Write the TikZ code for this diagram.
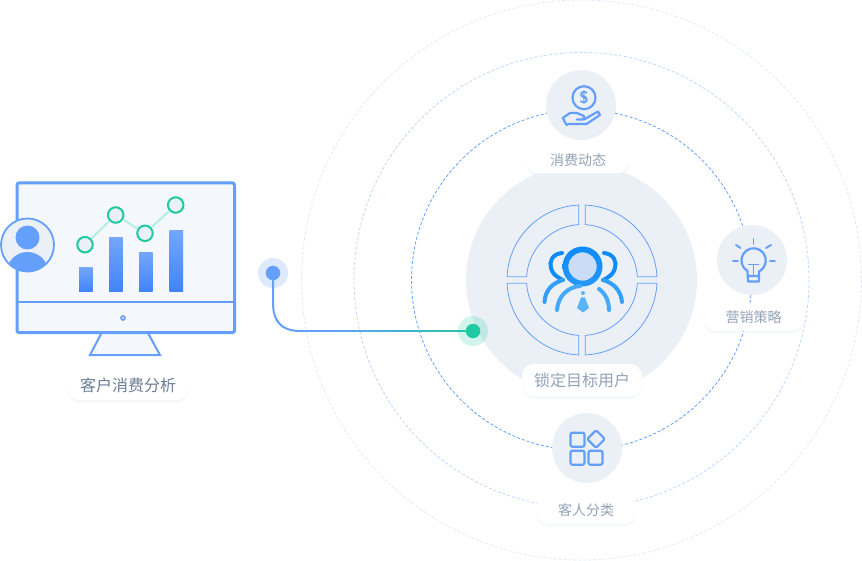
\documentclass[tikz,border=0pt]{standalone}
\usepackage{xcolor}
\usepackage{fontspec}
\newfontfamily\cjk{Noto Sans CJK SC}
\usetikzlibrary{calc,shadows}
\definecolor{iconblue}{HTML}{64A0FB}
\definecolor{paleblue}{HTML}{EBF0F7}
\definecolor{screenfill}{HTML}{F4F7FC}
\definecolor{tealdot}{HTML}{1FC9A4}
\definecolor{barbottom}{HTML}{3F83FB}
\definecolor{bartop}{HTML}{74A6FB}
\definecolor{deepblue}{HTML}{0F8BFB}
\definecolor{softblue}{HTML}{5AB4FB}
\definecolor{labelgrey}{HTML}{93A3B8}
\definecolor{labeldark}{HTML}{6B7E97}
\tikzset{
    ringline/.style={dashed,dash pattern=on 3pt off 2pt,line width=.8pt},
    icondisc/.style={circle,fill=paleblue,minimum size=70pt,inner sep=0pt},
    pill/.style={fill=white,rounded corners=12pt,inner sep=0pt,text=labelgrey,
        drop shadow={shadow xshift=0pt,shadow yshift=-3pt,fill=paleblue,opacity=.45}},
    iconline/.style={draw=iconblue,line width=2.2pt,line cap=round,line join=round},
    thinicon/.style={iconline,line width=1.9pt},
    chartdot/.style={circle,draw=tealdot,line width=2pt,fill=paleblue,minimum size=15.5pt,inner sep=0pt},
    bar/.style={bottom color=barbottom,top color=bartop,draw=none},
    sector/.style={draw=iconblue,line width=.8pt,fill=paleblue},
    person/.style={line width=4pt,line cap=round},
    dotnode/.style={circle,minimum size=#1,inner sep=0pt},
}
\begin{document}
\begin{tikzpicture}[x=1pt,y=1pt,yscale=-1]
    \useasboundingbox (0,0) rectangle (862,561);
    \coordinate (center) at (581.5,280);
    \coordinate (target) at (582,280);

    % rings
    \draw[ringline,draw=iconblue!22] (center) circle (280);
    \draw[ringline,draw=iconblue!42] (center) circle (227.5);
    \draw[ringline,draw=iconblue] (center) circle (170);
    \fill[paleblue] (center) circle (115.5);

    % target sectors
    \foreach \a in {0,90,180,270} {
        \draw[sector] ($(target)+(\a+3.4:55.5)$) arc (\a+3.4:\a+86.6:55.5)
            -- ($(target)+(\a+87.5:75)$) arc (\a+87.5:\a+2.5:75) -- cycle;
    }

    % people
    \shade[top color=deepblue,bottom color=deepblue!70!softblue,even odd rule]
        (582.5,266.5) circle (20) (582.5,266.5) circle (14);
    \fill[iconblue!25!paleblue] (582.5,266.5) circle (14);
    \draw[person,draw=deepblue] (562,253) .. controls (552,254) and (549,262) .. (551,268)
        .. controls (552,273) and (556,277) .. (563,280);
    \draw[person,draw=deepblue] (604,253) .. controls (614,254) and (617,262) .. (615,268)
        .. controls (614,273) and (610,277) .. (603,280);
    \draw[person,draw=deepblue!50!softblue] (563,280) .. controls (552,283) and (545,291) .. (544.5,302);
    \draw[person,draw=deepblue!50!softblue] (603,280) .. controls (614,283) and (621,291) .. (622,302);
    \draw[person,draw=deepblue!30!softblue] (557,310) .. controls (558,296) and (568,287) .. (580,286);
    \draw[person,draw=deepblue!30!softblue] (599,289) .. controls (606,294) and (609,302) .. (609,310);
    \fill[softblue] (583,293) circle (2);
    \fill[softblue] (581,297.5) -- (585,297.5) -- (589,308) -- (583,312.5) -- (577,308) -- cycle;

    % monitor
    \draw[fill=screenfill,draw=iconblue,line width=2pt] (101.5,333) -- (90,355) -- (160,355) -- (148,333);
    \draw[fill=screenfill,draw=iconblue,line width=3pt,rounded corners=2pt] (17,183) rectangle (234.5,332.5);
    \draw[draw=iconblue,line width=2pt] (17,302) -- (234.5,302);
    \draw[draw=iconblue,fill=paleblue,line width=1.6pt] (123,318) circle (2);

    \foreach \x/\y in {79/267.5,109/238,139/253,169.5/231} {
        \shade[bar] (\x,\y) rectangle (\x+13.7,292);
    }
    \node[chartdot] (p1) at (85,244.7) {};
    \node[chartdot] (p2) at (115.7,215) {};
    \node[chartdot] (p3) at (145,233.3) {};
    \node[chartdot] (p4) at (175.7,205) {};
    \draw[tealdot!32,line width=2pt] (p1) -- (p2);
    \draw[tealdot!32,line width=2pt] (p2) -- (p3);
    \draw[tealdot!32,line width=2pt] (p3) -- (p4);

    % avatar
    \draw[fill=paleblue,draw=iconblue,line width=1.8pt] (27.5,245) circle (26.5);
    \fill[iconblue] (27.5,237.5) circle (12);
    \begin{scope}
        \clip (27.5,245) circle (26);
        \fill[iconblue] (27.5,273) circle (21);
    \end{scope}

    % connector
    \node[dotnode=30pt,fill=iconblue!22] (srchalo) at (273,273) {};
    \node[dotnode=30pt,fill=tealdot,fill opacity=.2] (dsthalo) at (473,331) {};
    \coordinate (bend) at (300,331);
    \draw[iconblue,line width=2pt] (srchalo.center) -- (273,303) .. controls (273,322) and (282,331) .. (bend);
    \foreach \i [evaluate=\i as \p using {100-max(0,(\i-3))*100/17}, evaluate=\i as \q using {(\i+1.02)/20}] in {0,1,...,19} {
        \draw[iconblue!\p!tealdot,line width=2pt] ($(bend)!\i/20!(dsthalo.center)$) -- ($(bend)!\q!(dsthalo.center)$);
    }
    \node[dotnode=14.5pt,fill=iconblue] (srcdot) at (srchalo) {};
    \node[dotnode=14.5pt,fill=tealdot] (dstdot) at (dsthalo) {};

    % satellites
    \node[icondisc] (money) at (581,105) {};
    \node[icondisc] (bulb) at (752,260) {};
    \node[icondisc] (group) at (587,448) {};

    % money icon
    \draw[iconline] (584,97.7) circle (11.5);
    \node[text=iconblue,font=\fontsize{17}{17}\selectfont\bfseries\sffamily] (dollar) at (584,97.7) {\$};
    \draw[iconline] (562.7,118) -- (570,113) -- (577,113) -- (584,116) -- (583.5,119.5) -- (577,119.5)
        (584,119.5) -- (598,111.5) -- (600,115) -- (586.5,124) -- (568.5,124) -- (566.5,125) -- (562.7,118);

    % bulb icon
    \draw[iconline] (747.5,271) arc (120:420:12.2) (747.5,271) -- (748,281.5) -- (759,281.5) -- (759,271)
        (748,276) -- (759,276);
    \draw[thinicon] (748.5,264.5) -- (758.5,264.5) (753.5,264.5) -- (753.5,275);
    \draw[thinicon] (753.5,239) -- (753.5,244);
    \draw[thinicon] (736,245) -- (740.5,248);
    \draw[thinicon] (771,245) -- (766,248);
    \draw[thinicon] (733,260.7) -- (738,260.7);
    \draw[thinicon] (770,260.7) -- (775,260.7);

    % group icon
    \foreach \x/\y in {570.5/432.7,570.5/450.7,588.5/450.7} {
        \draw[iconline,rounded corners=2pt] (\x,\y) rectangle (\x+14,\y+14);
    }
    \draw[iconline,rounded corners=1.5pt] (596,430.2) -- (604.8,439) -- (596,447.8) -- (587.2,439) -- cycle;

    % labels
    \node[pill,minimum width=120pt,minimum height=30pt,text=labeldark,font=\cjk\fontsize{16}{16}\selectfont] (lblmonitor) at (128,385) {客户消费分析};
    \node[pill,minimum width=120pt,minimum height=32pt,font=\cjk\fontsize{16}{16}\selectfont] (lblcenter) at (582,380) {锁定目标用户};
    \node[pill,minimum width=102pt,minimum height=27pt,font=\cjk\fontsize{14}{14}\selectfont] (lblmoney) at (578,160) {消费动态};
    \node[pill,minimum width=100pt,minimum height=27pt,font=\cjk\fontsize{14}{14}\selectfont] (lblbulb) at (753.5,317) {营销策略};
    \node[pill,minimum width=100pt,minimum height=27pt,font=\cjk\fontsize{14}{14}\selectfont] (lblgroup) at (586,510) {客人分类};
\end{tikzpicture}
\end{document}
